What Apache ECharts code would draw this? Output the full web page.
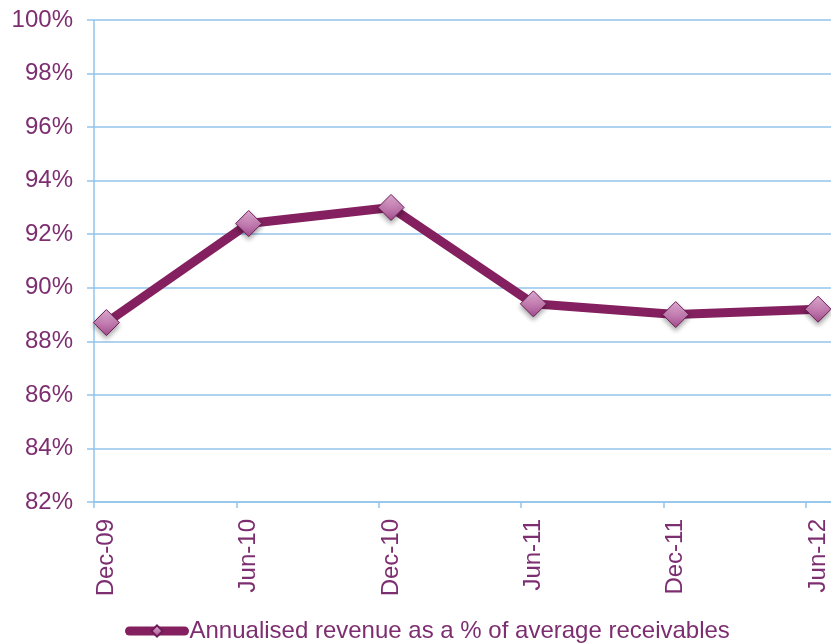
<!DOCTYPE html>
<html>
<head>
<meta charset="utf-8">
<script src="https://cdn.jsdelivr.net/npm/echarts@6/dist/echarts.min.js"></script>
<style>
  html, body { margin: 0; padding: 0; background: #fff; }
  #chart { width: 831px; height: 644px; }
</style>
</head>
<body>
<div id="chart"></div>
<script>
// 数据
var categories = ['Dec-09', 'Jun-10', 'Dec-10', 'Jun-11', 'Dec-11', 'Jun-12'];
var ratio = [88.7, 92.4, 93.0, 89.4, 89.0, 89.2];
var seriesName = 'Annualised revenue as a % of average receivables';
var yMin = 82, yMax = 100, yStep = 2;

var tickShift = 0.087; // 刻度线在数据点左边一点
var textColor = '#7D2E70';
var lineColor = '#84205F';
var gridColor = '#92C5EC';
var font = 'Liberation Sans, Arial, sans-serif';

var myChart = echarts.init(document.getElementById('chart'));
var option = {
    animation: false,
    textStyle: { fontFamily: font },
    grid: {
        left: 94,
        right: 0,
        top: 20,
        bottom: 142
    },
    legend: {
        data: [seriesName],
        top: 619,
        left: 125,
        padding: 0,
        itemWidth: 55,
        itemHeight: 14,
        itemGap: 2,
        lineStyle: { width: 9, cap: 'round' },
        textStyle: { color: textColor, fontSize: 24, fontFamily: font }
    },
    xAxis: {
        type: 'value',
        min: -tickShift,
        max: categories.length - 1 + 0.091,
        axisLine: { onZero: false, lineStyle: { color: gridColor, width: 1.5 } },
        axisTick: {
            show: true,
            length: 6,
            lineStyle: { color: gridColor, width: 1.5 },
            customValues: categories.map(function (c, i) { return i - tickShift; })
        },
        splitLine: { show: false },
        axisLabel: {
            customValues: categories.map(function (c, i) { return i; }),
            rotate: 90,
            margin: 17,
            color: textColor,
            fontSize: 24,
            formatter: function (v) { return categories[Math.round(v)] || ''; }
        }
    },
    yAxis: {
        type: 'value',
        min: yMin,
        max: yMax,
        interval: yStep,
        axisLine: { show: true, onZero: false, lineStyle: { color: gridColor, width: 1.5 } },
        axisTick: { show: true, length: 7, lineStyle: { color: gridColor, width: 1.5 } },
        splitLine: { lineStyle: { color: gridColor, width: 1.5 } },
        axisLabel: {
            margin: 21,
            color: textColor,
            fontSize: 24,
            formatter: '{value}%'
        }
    },
    series: [
        {
            name: seriesName,
            type: 'line',
            data: ratio.map(function (v, i) { return [i, v]; }),
            symbol: 'diamond',
            symbolSize: 26,
            lineStyle: { color: lineColor, width: 9 },
            itemStyle: {
                color: new echarts.graphic.LinearGradient(0, 0, 0, 1, [
                    { offset: 0, color: '#E7B3DA' },
                    { offset: 1, color: '#A24C8C' }
                ]),
                borderColor: '#6E1B57',
                borderWidth: 1,
                shadowBlur: 5,
                shadowColor: 'rgba(0,0,0,0.35)',
                shadowOffsetY: 3
            }
        }
    ]
};
myChart.setOption(option);
</script>
</body>
</html>
